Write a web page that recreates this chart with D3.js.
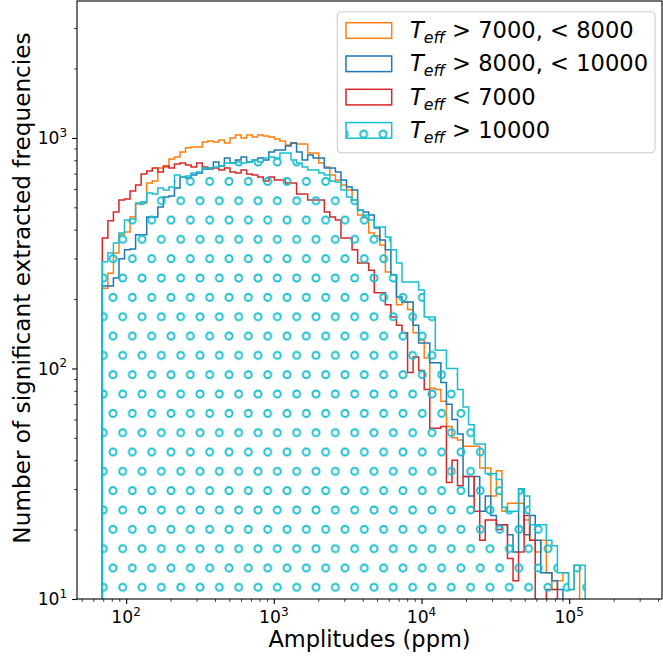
<!DOCTYPE html>
<html>
<head>
<meta charset="utf-8">
<style>
  body { margin: 0; background: #fff; }
  svg text { font-family: "DejaVu Sans", sans-serif; fill: #000; }
</style>
</head>
<body>
<svg width="663" height="666"></svg>
<script src="https://d3js.org/d3.v7.min.js"></script>
<script>

    // histogram bins (log-spaced between smallest and largest amplitude, ppm)
    var binLo = 69, binHi = 128300, nBins = 87;

    // counts per bin
    var teff7000to8000 = [
        223, 259, 317, 380, 391, 454, 517, 522, 638, 650,
        741, 748, 811, 827, 869, 906, 914, 914, 961, 970,
        961, 980, 951, 1000, 1030, 1000, 1030, 1009, 1030, 1020,
        1009, 990, 970, 932, 951, 942, 942, 861, 861, 779,
        748, 691, 657, 625, 595, 538, 463, 450, 387, 376,
        343, 262, 255, 189, 194, 180, 143, 133, 111, 82,
        81, 72, 56, 50, 49, 46, 46, 46, 37, 37,
        28, 36, 24, 26, 26, 26, 22, 18, 16, 18,
        13, 11, 12, 13, 11, 14, 0];
    var teff8000to10000 = [
        228, 228, 247, 299, 327, 330, 380, 380, 454, 454,
        502, 555, 560, 607, 677, 670, 691, 705, 734, 734,
        787, 756, 819, 779, 803, 827, 787, 803, 819, 803,
        869, 887, 887, 923, 951, 869, 803, 844, 819, 819,
        741, 741, 712, 657, 613, 595, 487, 477, 463, 407,
        361, 327, 255, 204, 194, 194, 154, 129, 129, 106,
        106, 87, 70, 60, 52, 34, 28, 34, 24, 28,
        23, 21, 21, 19, 16, 30, 19, 23, 18, 13,
        13, 12, 11, 0, 0, 0, 0];
    var teffBelow7000 = [
        368, 437, 477, 538, 543, 589, 625, 698, 719, 741,
        712, 756, 741, 771, 779, 763, 748, 779, 748, 741,
        741, 726, 741, 712, 705, 726, 698, 691, 677, 650,
        677, 657, 657, 638, 638, 571, 571, 538, 538, 538,
        477, 454, 441, 368, 368, 327, 287, 287, 267, 213,
        213, 189, 167, 154, 143, 96, 112, 98, 81, 55,
        55, 56, 32, 40, 31, 34, 34, 24, 18, 22,
        22, 20, 21, 15, 12, 16, 23, 18, 0, 9,
        11, 11, 0, 0, 0, 0, 0];
    var teffAbove10000 = [
        290, 317, 350, 387, 441, 445, 522, 528, 577, 571,
        607, 595, 613, 691, 677, 684, 705, 712, 741, 741,
        748, 756, 779, 779, 787, 779, 787, 803, 787, 819,
        827, 819, 861, 861, 803, 779, 748, 726, 726, 705,
        691, 650, 644, 595, 555, 538, 487, 463, 441, 411,
        411, 372, 327, 287, 237, 237, 237, 219, 167, 167,
        120, 120, 100, 100, 81, 68, 57, 47, 47, 35,
        35, 33, 25, 24, 24, 30, 28, 21, 21, 21,
        18, 17, 13, 13, 11, 14, 14];

    var seriesData = [teff7000to8000, teff8000to10000, teffBelow7000, teffAbove10000];
    var legendTail = [" > 7000, < 8000", " > 8000, < 10000", " < 7000", " > 10000"];
    var colors = ["#ff7f0e", "#1f77b4", "#d62728", "#17becf"];

    var xMajor = [1e2, 1e3, 1e4, 1e5],
        xLabels = ["2", "3", "4", "5"];
    var yMajor = [1e1, 1e2, 1e3],
        yLabels = ["1", "2", "3"];

    var svg = d3.select("svg"),
        margin = {top: 1, right: 1, bottom: 67, left: 77},
        width = +svg.attr("width") - margin.left - margin.right,
        height = +svg.attr("height") - margin.top - margin.bottom,
        g = svg.append("g").attr("transform", "translate(" + margin.left + "," + margin.top + ")");

    var x = d3.scaleLog().domain([46.5, 425000]).range([0, width]);
    var y = d3.scaleLog().domain([10, 3926]).range([height, 0]);

    var edges = d3.range(nBins + 1).map(function(i) {
        return binLo * Math.pow(binHi / binLo, i / nBins);
    });

    function minorTicks(scale) {
        var d = scale.domain(), out = [];
        for (var e = Math.floor(Math.log10(d[0])); e <= Math.ceil(Math.log10(d[1])); e++) {
            for (var k = 2; k <= 9; k++) {
                var v = k * Math.pow(10, e);
                if (v >= d[0] && v <= d[1]) out.push(v);
            }
        }
        return out;
    }

    var defs = svg.append("defs");
    defs.append("clipPath").attr("id", "plotclip")
        .append("rect").attr("width", width).attr("height", height);

    // 'o' hatch
    var hs = 19.33;
    var pat = defs.append("pattern")
        .attr("id", "hatch")
        .attr("patternUnits", "userSpaceOnUse")
        .attr("x", 45.7).attr("y", 586.3)
        .attr("width", hs).attr("height", hs * 2);
    [[0, 0], [hs, 0], [0, 2 * hs], [hs, 2 * hs], [hs / 2, hs]].forEach(function(c) {
        pat.append("circle")
            .attr("cx", c[0]).attr("cy", c[1]).attr("r", 3.5)
            .attr("fill", "none")
            .attr("stroke", colors[3])
            .attr("stroke-width", 1.9);
    });

    var line = d3.line();
    function stepPoints(counts) {
        var floor = height + 10;
        var yy = function(c) { return c > 0 ? y(c) : floor; };
        var pts = [[x(edges[0]), floor]];
        counts.forEach(function(c, i) {
            pts.push([x(edges[i]), yy(c)]);
            pts.push([x(edges[i + 1]), yy(c)]);
        });
        pts.push([x(edges[nBins]), floor]);
        return pts;
    }

    var plot = g.append("g").attr("clip-path", "url(#plotclip)");
    seriesData.forEach(function(counts, i) {
        plot.append("path")
            .attr("d", line(stepPoints(counts)))
            .attr("fill", i === 3 ? "url(#hatch)" : "none")
            .attr("stroke", colors[i])
            .attr("stroke-width", 1.5)
            .attr("stroke-linejoin", "miter");
    });

    // axes
    function styleAxis(sel, w) {
        sel.select(".domain").remove();
        sel.selectAll("line").attr("stroke", "#000").attr("stroke-width", w);
    }
    g.append("g").attr("transform", "translate(0," + height + ")")
        .call(d3.axisBottom(x).tickValues(minorTicks(x)).tickSize(2.8).tickFormat(""))
        .call(styleAxis, 0.8);
    g.append("g").attr("transform", "translate(0," + height + ")")
        .call(d3.axisBottom(x).tickValues(xMajor).tickSize(4.9).tickFormat(""))
        .call(styleAxis, 1.1);
    g.append("g")
        .call(d3.axisLeft(y).tickValues(minorTicks(y)).tickSize(2.8).tickFormat(""))
        .call(styleAxis, 0.8);
    g.append("g")
        .call(d3.axisLeft(y).tickValues(yMajor).tickSize(4.9).tickFormat(""))
        .call(styleAxis, 1.1);

    function powLabel(sel, exp) {
        sel.append("tspan").text("10");
        sel.append("tspan").attr("dy", -7.5).attr("font-size", 12).text(exp);
    }
    xMajor.forEach(function(v, i) {
        g.append("text")
            .attr("x", x(v)).attr("y", height + 24)
            .attr("text-anchor", "middle")
            .attr("font-size", 17.2)
            .call(powLabel, xLabels[i]);
    });
    yMajor.forEach(function(v, i) {
        g.append("text")
            .attr("x", -9.8).attr("y", y(v) + 6.3)
            .attr("text-anchor", "end")
            .attr("font-size", 17.2)
            .call(powLabel, yLabels[i]);
    });

    g.append("rect")
        .attr("width", width).attr("height", height)
        .attr("fill", "none").attr("stroke", "#000").attr("stroke-width", 1.1);

    g.append("text")
        .attr("x", width / 2).attr("y", height + 48)
        .attr("text-anchor", "middle")
        .attr("font-size", 22.5)
        .text("Amplitudes (ppm)");

    svg.append("text")
        .attr("transform", "translate(29.5,288) rotate(-90)")
        .attr("text-anchor", "middle")
        .attr("font-size", 23.2)
        .text("Number of significant extracted frequencies");

    // legend
    var leg = g.append("g").attr("transform", "translate(260.3,10.7)");
    leg.append("rect")
        .attr("width", 317.7).attr("height", 141)
        .attr("rx", 4).attr("ry", 4)
        .attr("fill", "#fff").attr("fill-opacity", 0.8)
        .attr("stroke", "#cccccc").attr("stroke-width", 1.1);
    legendTail.forEach(function(t, i) {
        var top = 11 + i * 33.3;
        leg.append("rect")
            .attr("x", 8.7).attr("y", top)
            .attr("width", 45.7).attr("height", 15.6)
            .attr("fill", i === 3 ? "url(#hatch)" : "none")
            .attr("stroke", colors[i]).attr("stroke-width", 1.5);
        var tx = leg.append("text")
            .attr("x", 72.7).attr("y", top + 15.5)
            .attr("font-size", 22.6)
            .style("white-space", "pre");
        tx.append("tspan").attr("font-style", "italic").text("T");
        tx.append("tspan").attr("font-style", "italic").attr("font-size", 15.8).attr("dy", 5).text("eff");
        tx.append("tspan").attr("dy", -5).text(t);
    });

</script>
</body>
</html>
